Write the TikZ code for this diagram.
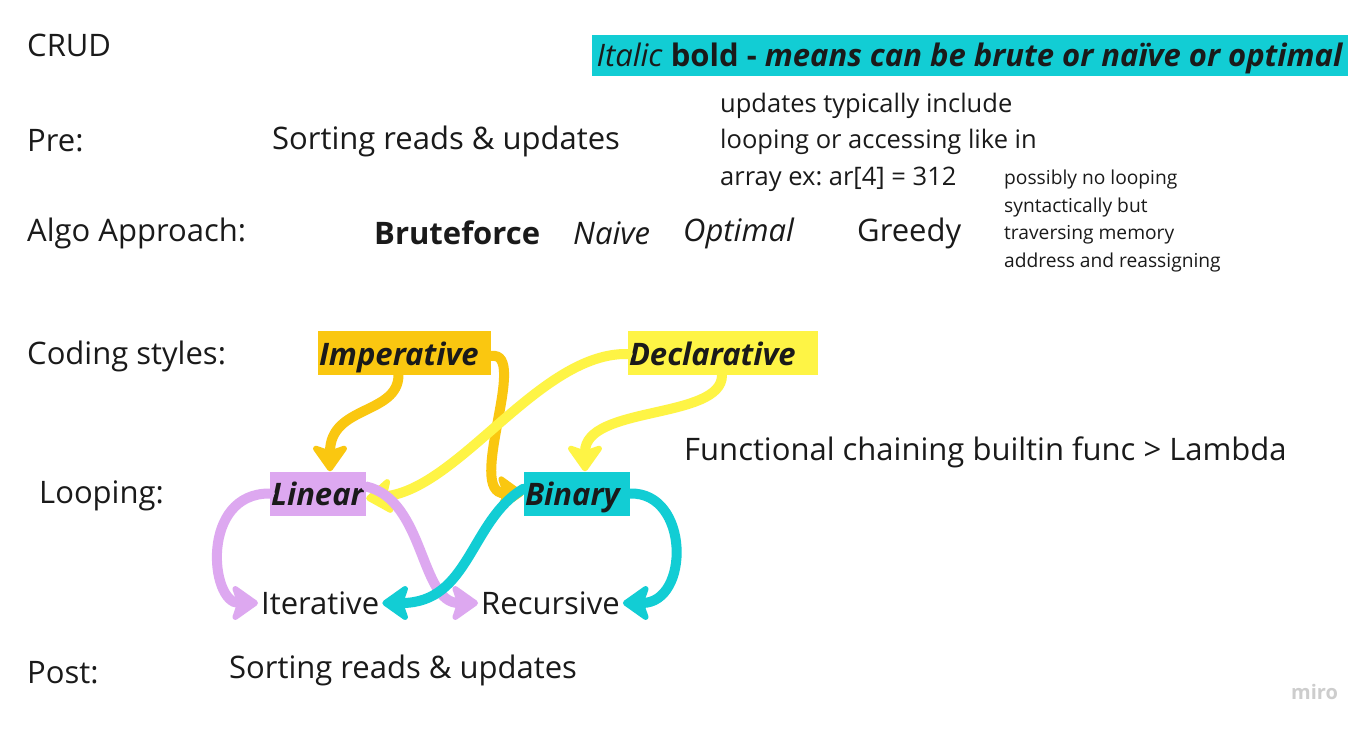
\documentclass[tikz,border=0pt]{standalone}
\usepackage{fontspec}
\setmainfont{Open Sans}
\frenchspacing
\usetikzlibrary{arrows.meta}
\definecolor{txt}{HTML}{1A1A1A}
\definecolor{cOrange}{HTML}{FAC710}
\definecolor{cYellow}{HTML}{FEF445}
\definecolor{cPurple}{HTML}{DDA8F0}
\definecolor{cCyan}{HTML}{12CDD4}
\definecolor{cGray}{HTML}{CDCDCD}
\tikzset{
  lbl/.style={anchor=west, inner sep=0pt, text=txt, font=\fontsize{31pt}{36pt}\selectfont},
  mid/.style={anchor=west, inner sep=0pt, text=txt, font=\fontsize{25.5pt}{36.5pt}\selectfont, align=left},
  small/.style={anchor=west, inner sep=0pt, text=txt, font=\fontsize{19.2pt}{27.5pt}\selectfont, align=left},
  box/.style={inner xsep=1pt, inner ysep=0pt, minimum height=44pt, text height=26pt, text depth=2pt,
    align=left, text=txt, font=\fontsize{31pt}{36pt}\selectfont\bfseries\itshape},
  tipA/.tip={Stealth[length=30pt 0 0, width=42pt 0 0, inset=7pt, round]},
  conn/.style={line width=10pt, line cap=round, -tipA},
}
\begin{document}
\begin{tikzpicture}[x=1pt,y=-1pt]
\useasboundingbox[fill=white] (0,0) rectangle (1366,731);
% banner
\node[fill=cCyan, minimum width=756pt, minimum height=41pt, inner sep=0pt,
  text height=24pt, text depth=3pt,
  text=txt, font=\fontsize{31pt}{36pt}\selectfont] (banner) at (970,55.5)
  {\textit{Italic} \textbf{bold - \textit{means can be brute or naïve or optimal}}};
% labels
\node[lbl] (crud) at (27,45) {CRUD};
\node[lbl] (pre) at (27,141) {Pre:};
\node[lbl] (presort) at (272,141) {Sorting reads \& updates};
\node[mid] (upd) at (720,142) {updates typically include\\looping or accessing like in\\array ex: ar[4] = 312};
\node[small] (poss) at (1004,221) {possibly no looping\\syntactically but\\traversing memory\\address and reassigning};
\node[lbl] (algo) at (27,233) {Algo Approach:};
\node[lbl] (brute) at (374,233) {\textbf{Bruteforce}};
\node[lbl] (naive) at (573,233) {\textit{Naive}};
\node[lbl] (opt) at (683,233) {\textit{Optimal}};
\node[lbl] (greedy) at (857,233) {Greedy};
\node[lbl] (coding) at (27,356) {Coding styles:};
\node[lbl] (func) at (684,452) {Functional chaining builtin func > Lambda};
\node[lbl] (looping) at (39,496) {Looping:};
\node[lbl] (post) at (27,673) {Post:};
\node[lbl] (postsort) at (229,670) {Sorting reads \& updates};
\node[anchor=west, inner sep=0pt, text=cGray, font=\fontsize{20pt}{22pt}\selectfont\bfseries] (miro) at (1291,692) {miro};
% boxes
\node[box, fill=cOrange, text width=171pt] (imp) at (404.5,353) {Imperative};
\node[box, fill=cYellow, text width=188pt] (dec) at (723,353) {Declarative};
\node[box, fill=cPurple, text width=94pt] (lin) at (318,493.5) {Linear};
\node[box, fill=cCyan, text width=104pt] (bin) at (577,493.5) {Binary};
\node[lbl, inner xsep=3pt] (it) at (258,603) {Iterative};
\node[lbl, inner xsep=3pt] (rec) at (478,603) {Recursive};
% connectors
\draw[conn, draw=cOrange] ([xshift=-6pt]imp.south) .. controls (398,415) and (330,405) .. ([xshift=12pt]lin.north);
\draw[conn, draw=cOrange] ([yshift=-3pt]imp.east) .. controls (530,350) and (465,493) .. (bin.west);
\draw[conn, draw=cYellow] ([yshift=-1pt]dec.west) .. controls (540,352) and (460,488) .. ([yshift=-5pt]lin.east);
\draw[conn, draw=cYellow] ([xshift=-1pt]dec.south) .. controls (722,420) and (585,405) .. ([xshift=8pt]bin.north);
\draw[conn, draw=cPurple] (lin.west) .. controls (200,493) and (210,603) .. (it.west);
\draw[conn, draw=cPurple] ([yshift=7pt]lin.east) .. controls (425,500) and (420,603) .. (rec.west);
\draw[conn, draw=cCyan] ([yshift=5pt]bin.west) .. controls (470,520) and (470,603) .. (it.east);
\draw[conn, draw=cCyan] (bin.east) .. controls (690,492) and (690,603) .. (rec.east);
\end{tikzpicture}
\end{document}
